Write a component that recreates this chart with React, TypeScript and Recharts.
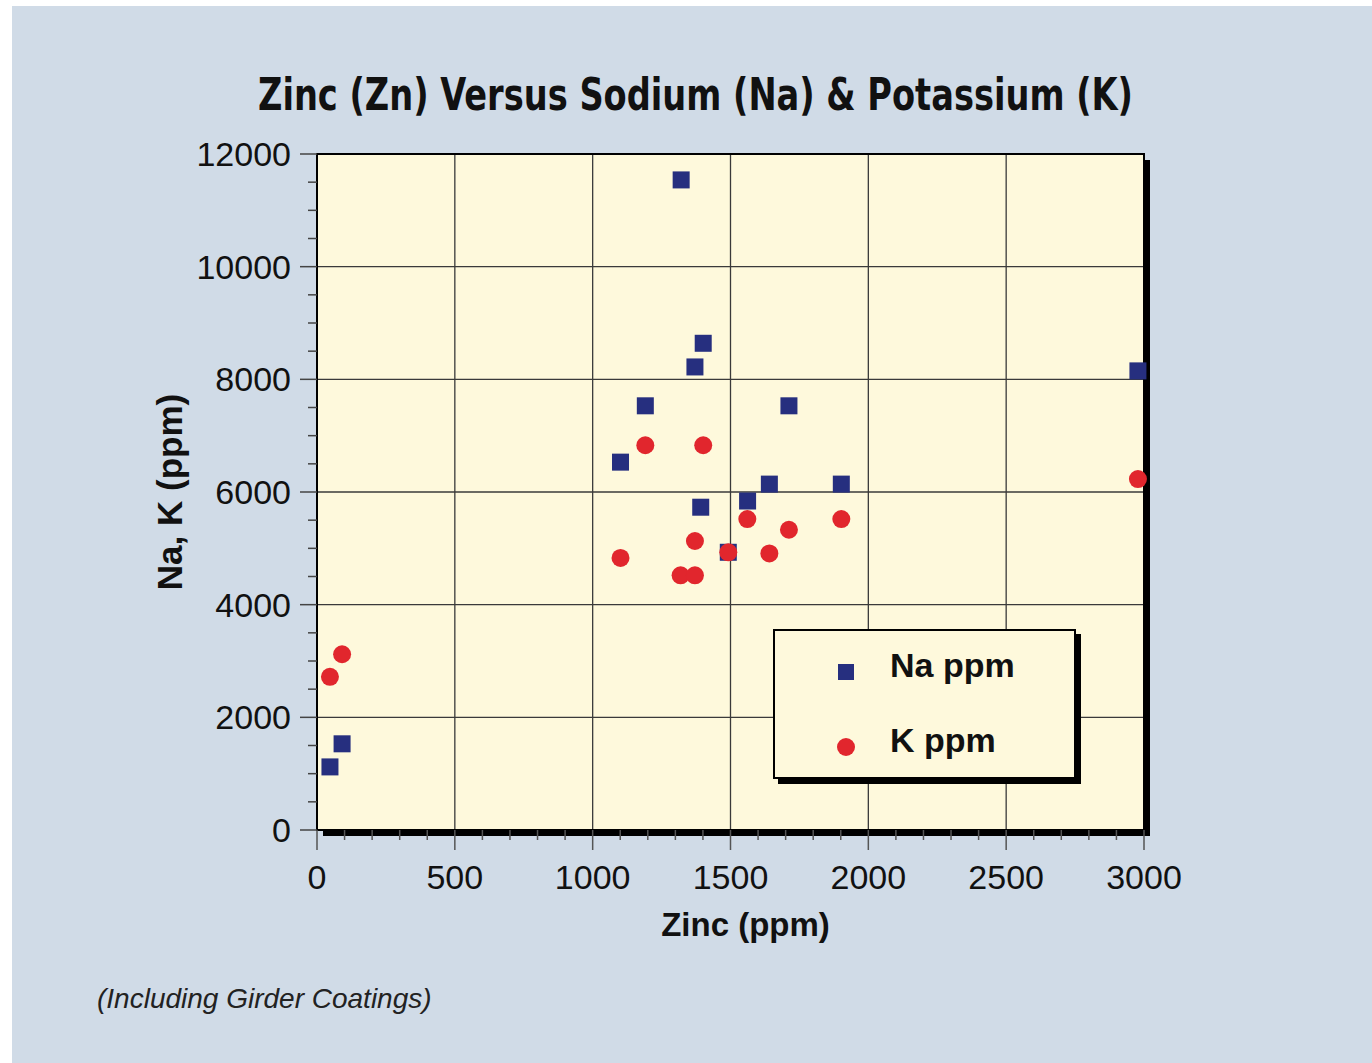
import { ScatterChart, Scatter, XAxis, YAxis, CartesianGrid, ReferenceArea, Legend } from 'recharts';

// zinc (ppm) vs sodium / potassium (ppm)
const zincNa = [47, 91, 1101, 1191, 1321, 1371, 1401, 1392, 1492, 1562, 1641, 1712, 1902, 2978];
const sodium = [1120, 1530, 6530, 7530, 11540, 8220, 8640, 5730, 4930, 5840, 6140, 7530, 6140, 8150];
const zincK = [47, 91, 1101, 1191, 1319, 1371, 1371, 1401, 1492, 1561, 1641, 1712, 1902, 2978];
const potassium = [2720, 3120, 4830, 6830, 4520, 4520, 5130, 6830, 4930, 5520, 4910, 5330, 5520, 6230];

const seriesNames = ['Na ppm', 'K ppm'];
const xMajor = [0, 500, 1000, 1500, 2000, 2500, 3000];
const yMajor = [0, 2000, 4000, 6000, 8000, 10000, 12000];
const xMinor = Array.from({ length: 31 }, (_, i) => i * 100);
const yMinor = Array.from({ length: 25 }, (_, i) => i * 500);

const naData = zincNa.map((z, i) => ({ zinc: z, ppm: sodium[i] }));
const kData = zincK.map((z, i) => ({ zinc: z, ppm: potassium[i] }));

const NAVY = '#262f7f';
const RED = '#e1262d';
const CREAM = '#fef9dc';
const FONT = '"Liberation Sans", Arial, Helvetica, sans-serif';

const XTick = ({ x, y, payload }: any) => {
  const major = payload.value % 500 === 0;
  return (
    <g>
      <line x1={x} x2={x} y1={y} y2={y + (major ? 20 : 10)} stroke="#555" strokeWidth={1.5} />
      {major && (
        <text x={x} y={y + 59} textAnchor="middle" fontSize={34} fontFamily={FONT} fill="#111">
          {payload.value}
        </text>
      )}
    </g>
  );
};

const YTick = ({ x, y, payload }: any) => {
  const major = payload.value % 2000 === 0;
  return (
    <g>
      <line x1={x - (major ? 17 : 9)} x2={x} y1={y} y2={y} stroke="#444" strokeWidth={1.5} />
      {major && (
        <text x={x - 26} y={y + 12} textAnchor="end" fontSize={34} fontFamily={FONT} fill="#111">
          {payload.value}
        </text>
      )}
    </g>
  );
};

const XTitle = ({ viewBox }: any) => (
  <text
    x={viewBox.x + viewBox.width / 2 + 15}
    y={viewBox.y + 106}
    textAnchor="middle"
    fontSize={33}
    fontWeight="bold"
    fontFamily={FONT}
    fill="#111"
  >
    Zinc (ppm)
  </text>
);

const Frame = ({ x, y, width, height }: any) => (
  <g>
    <rect x={x + width} y={y + 6} width={6} height={height} fill="#000" />
    <rect x={x + 6} y={y + height} width={width} height={6} fill="#000" />
    <rect x={x} y={y} width={width} height={height} fill="none" stroke="#000" strokeWidth={2} />
  </g>
);

const Square = ({ cx, cy }: any) => <rect x={cx - 8.5} y={cy - 8.5} width={17} height={17} fill={NAVY} />;
const Dot = ({ cx, cy }: any) => <circle cx={cx} cy={cy} r={9} fill={RED} />;

const LegendBox = ({ payload }: any) => {
  const items = [...(payload || [])].sort(
    (a: any, b: any) => seriesNames.indexOf(a.value) - seriesNames.indexOf(b.value)
  );
  return (
    <div
      style={{
        position: 'relative',
        width: 303,
        height: 150,
        boxSizing: 'border-box',
        border: '2px solid #000',
        background: CREAM,
        boxShadow: '5px 5px 0 #000',
        fontFamily: FONT,
      }}
    >
      {items.map((entry: any, i: number) => (
        <div key={entry.value} style={{ position: 'absolute', left: 0, top: 41 + i * 75 - 20, height: 40, width: '100%' }}>
          <svg width={30} height={30} style={{ position: 'absolute', left: 56, top: 5 }}>
            {entry.type === 'square' ? (
              <rect x={7} y={7} width={16} height={16} fill={entry.color} />
            ) : (
              <circle cx={15} cy={15} r={9} fill={entry.color} />
            )}
          </svg>
          <span
            style={{
              position: 'absolute',
              left: 115,
              top: -7,
              fontSize: 34,
              fontWeight: 'bold',
              lineHeight: '40px',
              color: '#111',
            }}
          >
            {entry.value}
          </span>
        </div>
      ))}
    </div>
  );
};

export default function App() {
  return (
    <div style={{ position: 'absolute', left: 0, top: 0, width: 1372, height: 1063, background: '#fff', overflow: 'hidden' }}>
      <div style={{ position: 'absolute', left: 12, top: 6, width: 1360, height: 1057, background: '#d0dbe7' }} />
      <div style={{ position: 'absolute', left: 0, top: 0 }}>
        <ScatterChart
          width={1372}
          height={1063}
          margin={{ top: 154, right: 228, bottom: 133, left: 157 }}
          style={{ fontFamily: FONT }}
        >
          <CartesianGrid
            fill={CREAM}
            fillOpacity={1}
            stroke="#3a3a3a"
            strokeWidth={1.3}
            horizontalValues={yMajor}
            verticalValues={xMajor}
          />
          <XAxis
            type="number"
            dataKey="zinc"
            domain={[0, 3000]}
            ticks={xMinor}
            interval={0}
            height={100}
            axisLine={false}
            tickLine={false}
            tickSize={0}
            tickMargin={0}
            tick={<XTick />}
            label={<XTitle />}
          />
          <YAxis
            type="number"
            dataKey="ppm"
            domain={[0, 12000]}
            ticks={yMinor}
            interval={0}
            width={160}
            axisLine={false}
            tickLine={false}
            tickSize={0}
            tickMargin={0}
            tick={<YTick />}
            label={{
              value: 'Na, K (ppm)',
              angle: -90,
              position: 'insideLeft',
              offset: 13,
              style: { fontSize: 35, fontWeight: 'bold', fill: '#111', fontFamily: FONT, textAnchor: 'middle' },
            }}
          />
          <ReferenceArea x1={0} x2={3000} y1={0} y2={12000} shape={<Frame />} />
          <Scatter name={seriesNames[0]} data={naData} fill={NAVY} legendType="square" shape={<Square />} isAnimationActive={false} />
          <Scatter name={seriesNames[1]} data={kData} fill={RED} legendType="circle" shape={<Dot />} isAnimationActive={false} />
          <Legend
            layout="vertical"
            align="center"
            verticalAlign="middle"
            content={<LegendBox />}
            wrapperStyle={{ position: 'absolute', left: 773, top: 629, width: 303, height: 150 }}
          />
        </ScatterChart>
      </div>
      <svg width={1372} height={1063} style={{ position: 'absolute', left: 0, top: 0, pointerEvents: 'none' }}>
        <text
          x={258}
          y={110}
          textLength={875}
          lengthAdjust="spacingAndGlyphs"
          fontFamily='"DejaVu Sans Condensed", "DejaVu Sans", sans-serif'
          fontWeight="bold"
          fontSize={45}
          fill="#111"
        >
          Zinc (Zn) Versus Sodium (Na) &amp; Potassium (K)
        </text>
        <text x={97} y={1008} fontFamily={FONT} fontStyle="italic" fontSize={28} fill="#222">
          (Including Girder Coatings)
        </text>
      </svg>
    </div>
  );
}
